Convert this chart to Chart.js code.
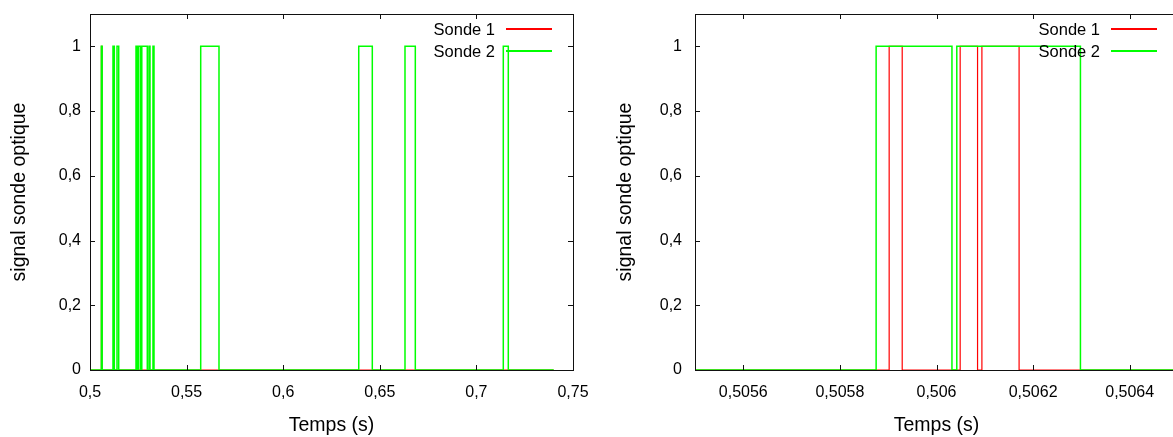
<!DOCTYPE html>
<html>
<head>
<meta charset="utf-8">
<script src="https://cdn.jsdelivr.net/npm/chart.js@4.4.1/dist/chart.umd.min.js"></script>
<style>
  html, body { margin:0; padding:0; background:#fff; overflow:hidden; width:1173px; height:437px; }
  .box { position:absolute; top:0; height:437px; width:600px; }
  #b1 { left:0; }
  #b2 { left:600px; }
</style>
</head>
<body>
<div class="box" id="b1"><canvas id="c1" width="600" height="437"></canvas></div>
<div class="box" id="b2"><canvas id="c2" width="600" height="437"></canvas></div>
<script>
// ---- data ----
const seriesNames  = ['Sonde 1', 'Sonde 2'];
const seriesColors = ['rgb(255,0,0)', 'rgb(0,255,0)'];
const sonde1Times  = [0.5, 0.505902, 0.505929, 0.506049, 0.506085, 0.506094, 0.506171, 0.74];
const sonde1Values = [0,   1,        0,        1,        0,        1,        0,        0];
const sonde2Times  = [0.5, 0.505875, 0.506032, 0.506042, 0.506298,
                      0.5119, 0.51258, 0.51398, 0.51486,
                      0.52381, 0.52459, 0.52521, 0.52624, 0.52681, 0.52966,
                      0.53054, 0.53106, 0.5326, 0.53313,
                      0.5573, 0.56677, 0.6391, 0.64612, 0.66304, 0.66838,
                      0.71392, 0.71651, 0.74];
const sonde2Values = [0, 1, 0, 1, 0,
                      1, 0, 1, 0,
                      1, 0, 1, 0, 1, 0,
                      1, 0, 1, 0,
                      1, 0, 1, 0, 1, 0,
                      1, 0, 0];
const xTicksLeft   = [0.5, 0.55, 0.6, 0.65, 0.7, 0.75];
const xLabelsLeft  = ['0,5', '0,55', '0,6', '0,65', '0,7', '0,75'];
const xRangeLeft   = [0.5, 0.75];
const xTicksRight  = [0.5056, 0.5058, 0.506, 0.5062, 0.5064];
const xLabelsRight = ['0,5056', '0,5058', '0,506', '0,5062', '0,5064'];
const xRangeRight  = [0.5055, 0.5065];
const yTicks  = [0, 0.2, 0.4, 0.6, 0.8, 1];
const yLabels = ['0', '0,2', '0,4', '0,6', '0,8', '1'];
const yRange  = [0, 1.1];
const xTitle = 'Temps (s)';
const yTitle = 'signal sonde optique';

// ---- helpers ----
const FONT = '"Liberation Sans", Arial, sans-serif';
const FS = 16;      // tick labels
const FS_T = 19.5;  // axis titles
const FS_L = 16.5;  // legend
function pts(t, v) { return t.map((x, i) => ({ x: x, y: v[i] })); }

const framePlugin = {
  id: 'frame',
  afterDraw(chart) {
    const ctx = chart.ctx, a = chart.chartArea;
    const xs = chart.scales.x, ys = chart.scales.y;
    ctx.save();
    ctx.strokeStyle = '#111';
    ctx.lineWidth = 1;
    ctx.strokeRect(Math.round(a.left) + 0.5, Math.round(a.top) + 0.5,
                   Math.round(a.right - a.left), Math.round(a.bottom - a.top));
    const L = 5;
    ctx.beginPath();
    xs.ticks.forEach(t => {
      const px = Math.round(xs.getPixelForValue(t.value)) + 0.5;
      ctx.moveTo(px, a.bottom); ctx.lineTo(px, a.bottom - L);
      ctx.moveTo(px, a.top); ctx.lineTo(px, a.top + L);
    });
    ys.ticks.forEach(t => {
      const py = Math.round(ys.getPixelForValue(t.value)) + 0.5;
      ctx.moveTo(a.left, py); ctx.lineTo(a.left + L, py);
      ctx.moveTo(a.right, py); ctx.lineTo(a.right - L, py);
    });
    ctx.stroke();
    ctx.restore();
    // legend (gnuplot style: text then line sample)
    seriesNames.forEach((name, i) => {
      const yl = Math.round(a.top + 14 + i * 22);
      const yt = a.top + 16 + i * 22.5;
      const x2 = a.right - 21, x1 = x2 - 46;
      ctx.save();
      ctx.font = FS_L + 'px ' + FONT;
      ctx.textAlign = 'right';
      ctx.textBaseline = 'middle';
      ctx.fillStyle = '#000';
      ctx.fillText(name, x1 - 11, yt);
      ctx.fillStyle = seriesColors[i];
      ctx.fillRect(x1, yl, x2 - x1, 2);
      ctx.restore();
    });
  }
};

function makeChart(id, xTicks, xLabels, xRange, yWidth, yTickPad, yTitlePad, rightPad) {
  return new Chart(document.getElementById(id), {
    type: 'line',
    data: {
      datasets: [
        { label: seriesNames[1], data: pts(sonde2Times, sonde2Values), borderColor: seriesColors[1],
          borderWidth: 1.5, stepped: true, pointRadius: 0, fill: false },
        { label: seriesNames[0], data: pts(sonde1Times, sonde1Values), borderColor: seriesColors[0],
          borderWidth: 1.2, stepped: true, pointRadius: 0, fill: false }
      ]
    },
    options: {
      responsive: false,
      animation: false,
      layout: { padding: { top: 14, right: rightPad, bottom: 0, left: 0 } },
      plugins: { legend: { display: false }, tooltip: { enabled: false } },
      scales: {
        x: {
          type: 'linear', min: xRange[0], max: xRange[1],
          afterBuildTicks: s => { s.ticks = xTicks.map(v => ({ value: v })); },
          afterFit: s => { s.height = 67; s.paddingLeft = 0; s.paddingRight = 0; },
          grid: { display: false, drawTicks: false },
          border: { display: false },
          ticks: { autoSkip: false, maxRotation: 0, padding: 13, color: '#000',
                   font: { family: FONT, size: FS },
                   callback: (v, i) => xLabels[i] },
          title: { display: true, text: xTitle, color: '#000', padding: { top: 0, bottom: 0 },
                   font: { family: FONT, size: FS_T } }
        },
        y: {
          type: 'linear', min: yRange[0], max: yRange[1],
          afterBuildTicks: s => { s.ticks = yTicks.map(v => ({ value: v })); },
          afterFit: s => { s.width = yWidth; s.paddingTop = 0; s.paddingBottom = 0; },
          grid: { display: false, drawTicks: false },
          border: { display: false },
          ticks: { autoSkip: false, padding: yTickPad, color: '#000',
                   font: { family: FONT, size: FS },
                   callback: (v, i) => yLabels[i] },
          title: { display: true, text: yTitle, color: '#000',
                   padding: { top: yTitlePad, bottom: yTitlePad },
                   font: { family: FONT, size: FS_T } }
        }
      }
    },
    plugins: [framePlugin]
  });
}

makeChart('c1', xTicksLeft, xLabelsLeft, xRangeLeft, 90, 9, 7.5, 27);
makeChart('c2', xTicksRight, xLabelsRight, xRangeRight, 95, 13, 13.5, 22);
</script>
</body>
</html>
